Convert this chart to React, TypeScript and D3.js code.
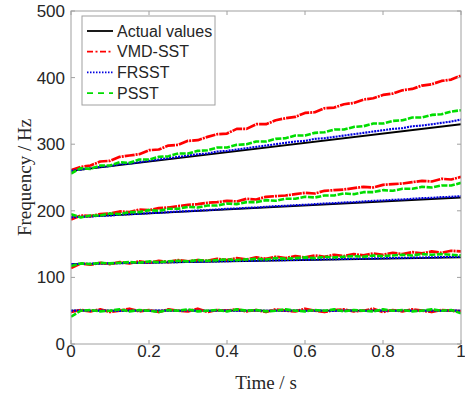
import React from "react";
import * as d3 from "d3";

const xTicks = [0, 0.2, 0.4, 0.6, 0.8, 1];
const xTickLabels = ["0", "0.2", "0.4", "0.6", "0.8", "1"];
const yTicks = [0, 100, 200, 300, 400, 500];
const yTickLabels = ["0", "100", "200", "300", "400", "500"];

const legendLabels = ["Actual values", "VMD-SST", "FRSST", "PSST"];

// Actual values (linear instantaneous frequencies): [start, end]
const actual1 = [50, 50];
const actual2 = [120, 130];
const actual3 = [190, 220];
const actual4 = [260, 330];

// VMD-SST estimates, sampled at t = 0, 0.025, ..., 1
const vmd4 = [261, 266, 268, 274, 275, 281, 283, 285, 291, 292, 298, 299, 305, 306, 311, 315, 316, 323, 323, 330, 330, 336, 339, 341, 347, 348, 354, 355, 360, 362, 367, 369, 374, 376, 381, 383, 388, 390, 395, 397, 403];
const vmd3 = [187, 193, 192, 195, 196, 199, 198, 202, 201, 204, 205, 207, 209, 210, 212, 213, 215, 214, 218, 217, 221, 222, 223, 225, 227, 226, 230, 231, 232, 234, 236, 235, 239, 240, 241, 243, 245, 244, 248, 247, 251];
const vmd2 = [114, 121, 119, 122, 120, 123, 121, 124, 122, 125, 123, 126, 124, 126, 125, 128, 126, 129, 127, 130, 128, 131, 129, 132, 130, 133, 131, 134, 132, 135, 133, 136, 134, 137, 135, 138, 136, 139, 137, 140, 139];
const vmd1 = [48, 51, 49, 52, 48, 50, 53, 49, 51, 48, 52, 50, 49, 53, 48, 51, 50, 52, 49, 51, 48, 52, 50, 49, 53, 50, 48, 51, 52, 49, 50, 53, 48, 51, 49, 52, 50, 48, 51, 50, 49];

// FRSST estimates
const frsst4 = [260, 262, 264, 266, 267, 270, 271, 273, 275, 277, 279, 281, 283, 285, 286, 289, 290, 292, 294, 296, 298, 300, 302, 304, 305, 308, 309, 311, 313, 315, 317, 319, 321, 323, 324, 327, 328, 330, 332, 334, 337];
const frsst3 = [190, 191, 191.5, 192.5, 193, 194, 195, 195.5, 196.5, 197, 198, 199, 199.5, 200.5, 201, 202, 203, 203.5, 204.5, 205, 206, 207, 207.5, 208.5, 209, 210, 211, 211.5, 212.5, 213, 214, 215, 215.5, 216.5, 217, 218, 219, 219.5, 220.5, 221, 222];
const frsst2 = [120, 120.3, 120.6, 120.8, 121.1, 121.4, 121.7, 121.9, 122.2, 122.5, 122.8, 123, 123.3, 123.6, 123.9, 124.1, 124.4, 124.7, 125, 125.2, 125.5, 125.8, 126, 126.3, 126.6, 126.9, 127.2, 127.4, 127.7, 128, 128.3, 128.5, 128.8, 129.1, 129.4, 129.6, 129.9, 130.2, 130.5, 130.7, 131];
const frsst1 = [50, 50.5, 49.8, 50.3, 50, 49.6, 50.4, 50, 49.7, 50.3, 50.1, 49.8, 50.4, 50, 49.6, 50.2, 50.3, 49.9, 50, 50.4, 49.7, 50.1, 50, 50.3, 49.8, 50.2, 50, 49.7, 50.4, 50, 49.9, 50.2, 50.1, 49.8, 50.3, 50, 49.9, 50.2, 50, 50.1, 50];

// PSST estimates
const psst4 = [256, 264, 263, 268, 268, 273, 272, 277, 277, 281, 282, 286, 286, 290, 291, 295, 295, 299, 300, 304, 304, 308, 309, 313, 313, 317, 318, 322, 322, 326, 327, 331, 331, 335, 336, 340, 340, 344, 345, 349, 351];
const psst3 = [195, 190, 193, 193, 196, 195, 198, 198, 201, 200, 203, 203, 206, 205, 208, 208, 211, 210, 213, 213, 216, 215, 218, 218, 221, 220, 223, 223, 226, 225, 228, 228, 231, 230, 233, 233, 236, 235, 238, 238, 242];
const psst2 = [117, 121, 120, 122, 121, 122, 123, 122, 124, 123, 124, 125, 124, 126, 125, 126, 127, 126, 127, 128, 127, 129, 128, 129, 130, 129, 131, 130, 131, 132, 131, 133, 132, 133, 134, 133, 135, 134, 135, 134, 133];
const psst1 = [41, 50, 51, 49, 50, 52, 49, 51, 50, 48, 51, 50, 52, 49, 50, 51, 49, 52, 50, 51, 49, 50, 52, 50, 49, 51, 50, 52, 49, 51, 50, 49, 52, 50, 51, 49, 50, 52, 50, 51, 46];

const W = 465;
const H = 396;
const M = { left: 71, right: 461, top: 11, bottom: 344 };

const x = d3.scaleLinear().domain([0, 1]).range([M.left, M.right]);
const y = d3.scaleLinear().domain([0, 500]).range([M.bottom, M.top]);

const lineGen = d3
  .line<number>()
  .x((_, i, arr) => x(i / ((arr as number[]).length - 1)))
  .y((d) => y(d));

const styles = [
  { color: "#000000", width: 1.8, dash: "" },
  { color: "#ff0000", width: 2.7, dash: "10 1 2 1" },
  { color: "#0000e0", width: 2.1, dash: "2 1" },
  { color: "#00dd00", width: 2.6, dash: "6 1.5" },
];

const series: number[][][] = [
  [actual1, actual2, actual3, actual4],
  [vmd1, vmd2, vmd3, vmd4],
  [frsst1, frsst2, frsst3, frsst4],
  [psst1, psst2, psst3, psst4],
];

const legendDash = ["", "6 2.5 2 2.5", "1.5 1.5", "6 5"];

export default function App() {
  const axisColor = "#a0a0a0";
  const textColor = "#262626";
  const tickLen = 4;
  return (
    <svg width={W} height={H} style={{ display: "block", position: "absolute", left: 0, top: 0 }}>
      <rect x={0} y={0} width={W} height={H} fill="#fff" />
      <defs>
        <clipPath id="plotclip">
          <rect x={M.left} y={M.top} width={M.right - M.left} height={M.bottom - M.top} />
        </clipPath>
      </defs>
      {/* lines */}
      <g clipPath="url(#plotclip)">
        {series.map((group, si) =>
          group.map((arr, ci) => (
            <path
              key={`${si}-${ci}`}
              d={lineGen(arr) || ""}
              fill="none"
              stroke={styles[si].color}
              strokeWidth={styles[si].width}
              strokeDasharray={styles[si].dash}
              strokeLinejoin="round"
            />
          ))
        )}
      </g>
      {/* box */}
      <rect
        x={M.left}
        y={M.top}
        width={M.right - M.left}
        height={M.bottom - M.top}
        fill="none"
        stroke={axisColor}
        strokeWidth={1}
      />
      {/* ticks */}
      {xTicks.map((t, i) => (
        <g key={`xt${i}`}>
          <line x1={x(t)} x2={x(t)} y1={M.bottom} y2={M.bottom - tickLen} stroke={axisColor} />
          <line x1={x(t)} x2={x(t)} y1={M.top} y2={M.top + tickLen} stroke={axisColor} />
          <text
            x={x(t)}
            y={357}
            textAnchor="middle"
            fontFamily="'Liberation Sans', Arial, sans-serif"
            fontSize={17}
            fill={textColor}
          >
            {xTickLabels[i]}
          </text>
        </g>
      ))}
      {yTicks.map((t, i) => (
        <g key={`yt${i}`}>
          <line x1={M.left} x2={M.left + tickLen} y1={y(t)} y2={y(t)} stroke={axisColor} />
          <line x1={M.right} x2={M.right - tickLen} y1={y(t)} y2={y(t)} stroke={axisColor} />
          <text
            x={65}
            y={y(t) + 6}
            textAnchor="end"
            fontFamily="'Liberation Sans', Arial, sans-serif"
            fontSize={17}
            fill={textColor}
          >
            {yTickLabels[i]}
          </text>
        </g>
      ))}
      {/* axis titles */}
      <text
        x={(M.left + M.right) / 2}
        y={389}
        textAnchor="middle"
        fontFamily="'Liberation Serif', 'Times New Roman', serif"
        fontSize={19}
        fill={textColor}
      >
        Time / s
      </text>
      <text
        transform={`translate(31, ${(M.top + M.bottom) / 2}) rotate(-90)`}
        textAnchor="middle"
        fontFamily="'Liberation Serif', 'Times New Roman', serif"
        fontSize={19}
        fill={textColor}
      >
        Frequency / Hz
      </text>
      {/* legend */}
      <rect x={82} y={16} width={133} height={89} fill="#fff" stroke={axisColor} strokeWidth={1} />
      {legendLabels.map((lab, i) => {
        const cy = 31 + i * 20.7;
        return (
          <g key={`lg${i}`}>
            <line
              x1={87}
              x2={113}
              y1={cy}
              y2={cy}
              stroke={styles[i].color}
              strokeWidth={1.8}
              strokeDasharray={legendDash[i]}
            />
            <text
              x={117}
              y={cy + 5.5}
              fontFamily="'Liberation Sans', Arial, sans-serif"
              fontSize={16}
              fill={textColor}
            >
              {lab}
            </text>
          </g>
        );
      })}
    </svg>
  );
}
